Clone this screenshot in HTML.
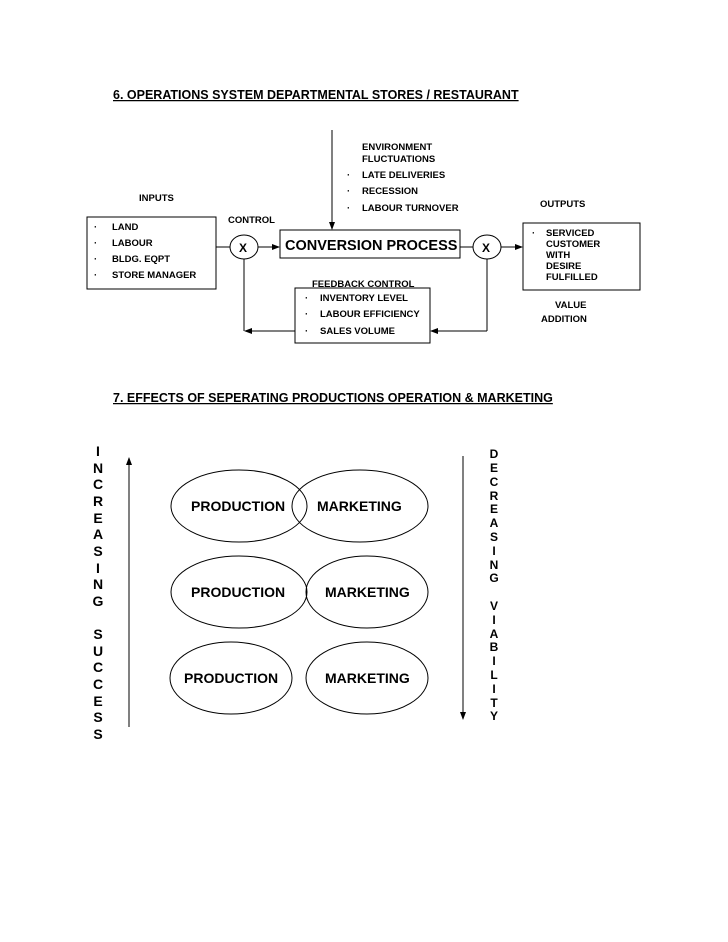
<!DOCTYPE html>
<html><head><style>
body{margin:0;background:#fff;}
svg{display:block}
.h{font-family:"Liberation Sans",sans-serif;font-weight:bold;font-size:12.5px;text-decoration:underline;}
.t{font-family:"Liberation Sans",sans-serif;font-weight:bold;font-size:9.5px;}
.e{font-family:"Liberation Sans",sans-serif;font-weight:bold;font-size:14px;}
</style></head><body>
<svg width="728" height="942" xmlns="http://www.w3.org/2000/svg">
<defs><marker id="a" markerWidth="8" markerHeight="8" refX="7" refY="4" orient="auto" markerUnits="userSpaceOnUse"><path d="M0,1 L8,4 L0,7z" fill="#000"/></marker></defs>
<text x="113" y="99" class="h">6.  OPERATIONS SYSTEM DEPARTMENTAL STORES / RESTAURANT</text>
<text x="113" y="402" class="h">7.  EFFECTS OF SEPERATING PRODUCTIONS OPERATION &amp; MARKETING</text>
<g fill="none" stroke="#000" stroke-width="1">
<rect x="87" y="217" width="129" height="72"/>
<rect x="280" y="230" width="180" height="28"/>
<rect x="523" y="223" width="117" height="67"/>
<rect x="295" y="288" width="135" height="55"/>
<ellipse cx="244" cy="247" rx="14" ry="12"/>
<ellipse cx="487" cy="247" rx="14" ry="12"/>
<line x1="332" y1="130" x2="332" y2="229" marker-end="url(#a)"/>
<line x1="216" y1="247" x2="230" y2="247"/>
<line x1="258" y1="247" x2="279" y2="247" marker-end="url(#a)"/>
<line x1="460" y1="247" x2="473" y2="247"/>
<line x1="501" y1="247" x2="522" y2="247" marker-end="url(#a)"/>
<line x1="244" y1="259" x2="244" y2="331"/>
<line x1="295" y1="331" x2="245" y2="331" marker-end="url(#a)"/>
<line x1="487" y1="259" x2="487" y2="331"/>
<line x1="487" y1="331" x2="431" y2="331" marker-end="url(#a)"/>
</g>
<g class="t">
<text x="139" y="201">INPUTS</text>
<text x="228" y="223">CONTROL</text>
<text x="239" y="252" font-size="12">X</text>
<text x="482" y="252" font-size="12">X</text>
<text x="285" y="250" font-size="14.5">CONVERSION PROCESS</text>
<text x="540" y="207">OUTPUTS</text>
<text x="94" y="230">·</text><text x="112" y="230">LAND</text>
<text x="94" y="246">·</text><text x="112" y="246">LABOUR</text>
<text x="94" y="262">·</text><text x="112" y="262">BLDG. EQPT</text>
<text x="94" y="278">·</text><text x="112" y="278">STORE MANAGER</text>
<text x="362" y="150">ENVIRONMENT</text>
<text x="362" y="162">FLUCTUATIONS</text>
<text x="347" y="178">·</text><text x="362" y="178">LATE DELIVERIES</text>
<text x="347" y="194">·</text><text x="362" y="194">RECESSION</text>
<text x="347" y="211">·</text><text x="362" y="211">LABOUR TURNOVER</text>
<text x="532" y="236">·</text><text x="546" y="236">SERVICED</text>
<text x="546" y="247">CUSTOMER</text>
<text x="546" y="258">WITH</text>
<text x="546" y="269">DESIRE</text>
<text x="546" y="280">FULFILLED</text>
<text x="555" y="308">VALUE</text>
<text x="541" y="322">ADDITION</text>
<text x="312" y="287">FEEDBACK CONTROL</text>
<text x="305" y="301">·</text><text x="320" y="301">INVENTORY LEVEL</text>
<text x="305" y="317">·</text><text x="320" y="317">LABOUR EFFICIENCY</text>
<text x="305" y="334">·</text><text x="320" y="334">SALES VOLUME</text>
</g>
<g fill="none" stroke="#000" stroke-width="1">
<line x1="129" y1="727" x2="129" y2="458" marker-end="url(#a)"/>
<line x1="463" y1="456" x2="463" y2="719" marker-end="url(#a)"/>
<ellipse cx="239" cy="506" rx="68" ry="36"/>
<ellipse cx="360" cy="506" rx="68" ry="36"/>
<ellipse cx="239" cy="592" rx="68" ry="36"/>
<ellipse cx="367" cy="592" rx="61" ry="36"/>
<ellipse cx="231" cy="678" rx="61" ry="36"/>
<ellipse cx="367" cy="678" rx="61" ry="36"/>
</g>
<g class="e">
<text x="191" y="511">PRODUCTION</text><text x="317" y="511">MARKETING</text>
<text x="191" y="597">PRODUCTION</text><text x="325" y="597">MARKETING</text>
<text x="184" y="683">PRODUCTION</text><text x="325" y="683">MARKETING</text>
</g>
<g class="e" font-size="13" text-anchor="middle">
<text x="98" y="456">I</text><text x="98" y="473">N</text><text x="98" y="489">C</text><text x="98" y="506">R</text><text x="98" y="523">E</text><text x="98" y="539">A</text><text x="98" y="556">S</text><text x="98" y="573">I</text><text x="98" y="589">N</text><text x="98" y="606">G</text>
<text x="98" y="639">S</text><text x="98" y="656">U</text><text x="98" y="672">C</text><text x="98" y="689">C</text><text x="98" y="706">E</text><text x="98" y="722">S</text><text x="98" y="739">S</text>
<text x="494" y="458" font-size="12">D</text><text x="494" y="472" font-size="12">E</text><text x="494" y="486" font-size="12">C</text><text x="494" y="500" font-size="12">R</text><text x="494" y="513" font-size="12">E</text><text x="494" y="527" font-size="12">A</text><text x="494" y="541" font-size="12">S</text><text x="494" y="555" font-size="12">I</text><text x="494" y="569" font-size="12">N</text><text x="494" y="582" font-size="12">G</text>
<text x="494" y="610" font-size="12">V</text><text x="494" y="624" font-size="12">I</text><text x="494" y="638" font-size="12">A</text><text x="494" y="651" font-size="12">B</text><text x="494" y="665" font-size="12">I</text><text x="494" y="679" font-size="12">L</text><text x="494" y="693" font-size="12">I</text><text x="494" y="707" font-size="12">T</text><text x="494" y="720" font-size="12">Y</text>
</g>
</svg>
</body></html>
